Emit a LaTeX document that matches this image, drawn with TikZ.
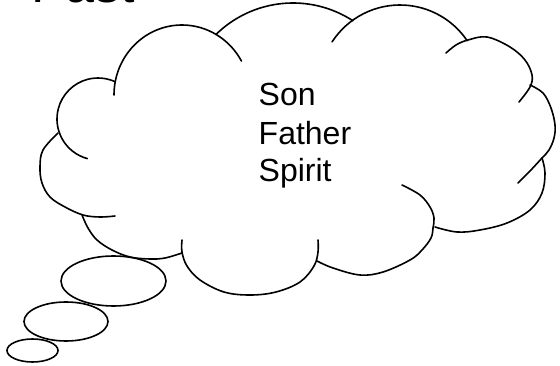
\documentclass[tikz,border=0pt]{standalone}
\usepackage{fontspec}
\setmainfont{Liberation Sans}
\usetikzlibrary{calc}
\begin{document}
\begin{tikzpicture}[x=1pt,y=-1pt,
  lobe/.style={line width=1.6pt, line cap=round},
  bubble/.style={line width=1.6pt},
  txt/.style={font=\fontsize{32}{38}\selectfont, inner sep=0pt, anchor=base west},
  title/.style={font=\fontsize{52}{60}\selectfont, inner sep=0pt, anchor=base west}]
\useasboundingbox (0,0) rectangle (560,366);
% title (cut off at top)
\node[title] (past) at (31,3) {Past};
% cloud lobes
\draw[lobe] ($(98,119)+(105:41)$) arc[start angle=105, end angle=295, radius=41];
\draw[lobe] ($(182,95)+(180:68 and 70)$) arc[start angle=180, end angle=331, x radius=68, y radius=70];
\draw[lobe] ($(293,113)+(225.5:110)$) arc[start angle=225.5, end angle=303, radius=110];
\draw[lobe] ($(400,86)+(213:81)$) arc[start angle=213, end angle=326, radius=81];
\draw[lobe] plot[smooth, tension=0.6] coordinates {(446,53) (456,45) (468,40) (487,37) (510,47) (525,60) (532,75) (530,87) (519,102)};
\draw[lobe] plot[smooth, tension=0.6] coordinates {(530,85) (543,93) (551,108) (555,125) (554,138) (549,150) (542,158) (530,171) (518,183)};
\draw[lobe] plot[smooth, tension=0.6] coordinates {(542,158) (545,173) (542,193) (530,210) (507,223) (480,230) (457,232) (435,227)};
\draw[lobe] plot[smooth, tension=0.6] coordinates {(402,185) (420,195) (430,207) (434,218) (433,228) (431,238) (422,250) (410,260) (383,272) (360,275) (333,268) (317,261)};
\draw[lobe] plot[smooth, tension=0.6] coordinates {(318,240) (318,252) (314,266) (300,282) (276,292) (250,295) (224,292) (200,280) (187,266) (182,252) (182,240)};
\draw[lobe] plot[smooth, tension=0.6] coordinates {(82,215) (88,228) (97,240) (112,250) (130,257) (150,259) (165,258) (182,253)};
\draw[lobe] plot[smooth, tension=0.6] coordinates {(115,216) (100,217) (83,215) (65,207) (50,197) (42,183) (40,167) (43,150) (58,133)};
% thought bubbles
\draw[bubble] (113.5,281) ellipse [x radius=52.5, y radius=25];
\draw[bubble] (66,321.5) ellipse [x radius=42, y radius=19.5];
\draw[bubble] (32.5,350.5) ellipse [x radius=25.5, y radius=11.5];
% text
\node[txt] (son) at (258.5,106) {Son};
\node[txt] (father) at (258.5,145) {Father};
\node[txt] (spirit) at (258.5,182) {Spirit};
\end{tikzpicture}
\end{document}
